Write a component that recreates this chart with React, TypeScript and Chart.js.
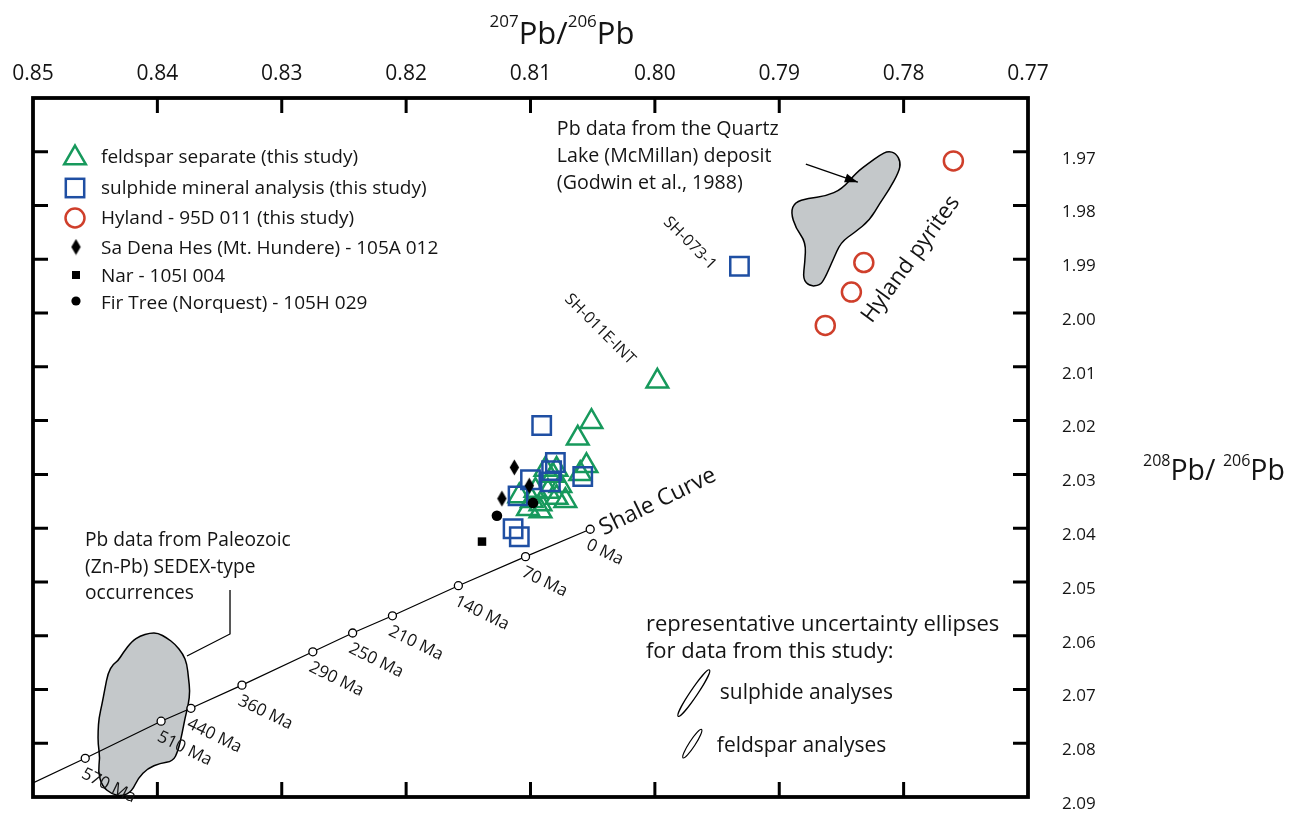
import React, { useEffect, useRef } from 'react';
import { Chart, registerables } from 'chart.js';

Chart.register(...registerables);

const FONT = "'Open Sans', 'DejaVu Sans', sans-serif";
const GREEN = '#17995c';
const BLUE = '#1f4fa3';
const RED = '#cf3f2b';
const INK = '#141414';

// ---- axes ----
const X_TICKS = [0.85, 0.84, 0.83, 0.82, 0.81, 0.8, 0.79, 0.78, 0.77];
const X_TICK_LABELS = ['0.85', '0.84', '0.83', '0.82', '0.81', '0.80', '0.79', '0.78', '0.77'];
const Y_TICKS = [1.96, 1.97, 1.98, 1.99, 2.0, 2.01, 2.02, 2.03, 2.04, 2.05, 2.06, 2.07, 2.08, 2.09];
const Y_TICK_LABELS = ['', '1.97', '1.98', '1.99', '2.00', '2.01', '2.02', '2.03', '2.04', '2.05', '2.06', '2.07', '2.08', '2.09'];

// ---- data (207Pb/206Pb = x, 208Pb/206Pb = y) ----
const feldsparX = [0.7998, 0.8051, 0.8062, 0.8055, 0.806, 0.8088, 0.8082, 0.8076, 0.8086, 0.8072, 0.8092, 0.8099, 0.8102, 0.8092, 0.8109, 0.8096, 0.8079, 0.8079];
const feldsparY = [2.0127, 2.0202, 2.0233, 2.0284, 2.0299, 2.0291, 2.0302, 2.0321, 2.0332, 2.0349, 2.0355, 2.0349, 2.0364, 2.0368, 2.034, 2.033, 2.0343, 2.0291];

const sulphideX = [0.7932, 0.8091, 0.808, 0.8083, 0.8084, 0.81, 0.811, 0.8058, 0.8114, 0.8109];
const sulphideY = [1.9913, 2.0209, 2.0278, 2.0293, 2.0314, 2.031, 2.034, 2.0304, 2.0401, 2.0416];

const hylandX = [0.776, 0.7832, 0.7842, 0.7863];
const hylandY = [1.9717, 1.9906, 1.9961, 2.0023];

const saDenaX = [0.8113, 0.8101, 0.8123];
const saDenaY = [2.0287, 2.0321, 2.0345];

const narX = [0.8139];
const narY = [2.0425];

const firTreeX = [0.8098, 0.8127];
const firTreeY = [2.0353, 2.0377];

// shale curve (last point = where the line leaves the plot, no marker)
const shaleAges = [0, 70, 140, 210, 250, 290, 360, 440, 510, 570, null];
const shaleX = [0.8052, 0.8104, 0.8158, 0.8211, 0.8243, 0.8275, 0.8332, 0.8373, 0.8397, 0.8458, 0.85];
const shaleY = [2.0402, 2.0453, 2.0507, 2.0563, 2.0595, 2.063, 2.0692, 2.0735, 2.0759, 2.0828, 2.0874];

// field outlines
const quartzX = [0.78127, 0.78063, 0.78023, 0.78039, 0.78119, 0.78191, 0.78272, 0.78392, 0.78505, 0.78569, 0.78633, 0.78674, 0.78754, 0.7881, 0.78794, 0.78786, 0.78867, 0.78907, 0.78875, 0.7877, 0.78625, 0.78497, 0.78376, 0.7828, 0.78191];
const quartzY = [1.96988, 1.97025, 1.97192, 1.97379, 1.97714, 1.97956, 1.98273, 1.98497, 1.98683, 1.99018, 1.99354, 1.99484, 1.99503, 1.99372, 1.99056, 1.98683, 1.98422, 1.98124, 1.97938, 1.97863, 1.97826, 1.97696, 1.97379, 1.97211, 1.97062];

const sedexX = [0.8406, 0.83995, 0.83923, 0.83859, 0.83794, 0.83762, 0.8375, 0.83738, 0.8375, 0.83778, 0.83802, 0.83834, 0.83875, 0.83979, 0.84076, 0.84156, 0.84204, 0.84285, 0.84365, 0.84445, 0.84477, 0.84461, 0.84477, 0.84477, 0.8447, 0.84445, 0.84421, 0.84397, 0.84357, 0.84317, 0.84277, 0.84204, 0.8414];
const sedexY = [2.0595, 2.0595, 2.06043, 2.06155, 2.06341, 2.06527, 2.06788, 2.07031, 2.07273, 2.07533, 2.07832, 2.08148, 2.08335, 2.08372, 2.08465, 2.08651, 2.08894, 2.08987, 2.0895, 2.088, 2.08521, 2.08279, 2.08018, 2.07776, 2.07533, 2.07273, 2.06975, 2.06695, 2.06527, 2.06471, 2.06322, 2.06099, 2.06006];

const legendLabels = [
  'feldspar separate (this study)',
  'sulphide mineral analysis (this study)',
  'Hyland - 95D 011 (this study)',
  'Sa Dena Hes (Mt. Hundere) - 105A 012',
  'Nar - 105I 004',
  'Fir Tree (Norquest) - 105H 029',
];

const pts = (xs: number[], ys: number[]) => xs.map((x, i) => ({ x, y: ys[i] }));

function makeDiamond(): HTMLCanvasElement {
  const c = document.createElement('canvas');
  c.width = 11;
  c.height = 17;
  const g = c.getContext('2d')!;
  g.fillStyle = '#000';
  g.beginPath();
  g.moveTo(5.5, 0.5);
  g.lineTo(10.2, 8.5);
  g.lineTo(5.5, 16.5);
  g.lineTo(0.8, 8.5);
  g.closePath();
  g.fill();
  return c;
}

function drawRich(ctx: CanvasRenderingContext2D, parts: { t: string; sup?: boolean }[], x: number, y: number, align: 'left' | 'center', big: number, sup: number, rise: number) {
  let total = 0;
  const widths: number[] = [];
  parts.forEach((p) => {
    ctx.font = `${p.sup ? sup : big}px ${FONT}`;
    const w = ctx.measureText(p.t).width;
    widths.push(w);
    total += w;
  });
  let cx = align === 'center' ? x - total / 2 : x;
  ctx.textAlign = 'left';
  ctx.textBaseline = 'alphabetic';
  parts.forEach((p, i) => {
    ctx.font = `${p.sup ? sup : big}px ${FONT}`;
    ctx.fillText(p.t, cx, p.sup ? y - rise : y);
    cx += widths[i];
  });
}

function triPath(ctx: CanvasRenderingContext2D, x: number, y: number, r: number) {
  ctx.beginPath();
  for (let k = 0; k < 3; k++) {
    const a = (k * 2 * Math.PI) / 3;
    const px = x + Math.sin(a) * r;
    const py = y - Math.cos(a) * r;
    if (k === 0) ctx.moveTo(px, py);
    else ctx.lineTo(px, py);
  }
  ctx.closePath();
}

export default function App() {
  const ref = useRef<HTMLCanvasElement | null>(null);

  useEffect(() => {
    document.body.style.margin = '0';
    const canvas = ref.current!;
    const diamond = makeDiamond();

    const blob = (ctx: CanvasRenderingContext2D, sx: any, sy: any, xs: number[], ys: number[]) => {
      const p = xs.map((v, i) => [sx.getPixelForValue(v), sy.getPixelForValue(ys[i])]);
      const n = p.length;
      const mid = (a: number[], b: number[]) => [(a[0] + b[0]) / 2, (a[1] + b[1]) / 2];
      ctx.save();
      ctx.beginPath();
      const m0 = mid(p[n - 1], p[0]);
      ctx.moveTo(m0[0], m0[1]);
      for (let i = 0; i < n; i++) {
        const nx = p[(i + 1) % n];
        const m = mid(p[i], nx);
        ctx.quadraticCurveTo(p[i][0], p[i][1], m[0], m[1]);
      }
      ctx.closePath();
      ctx.fillStyle = '#c4c8ca';
      ctx.fill();
      ctx.lineWidth = 1.5;
      ctx.strokeStyle = '#000';
      ctx.stroke();
      ctx.restore();
    };

    const decor = {
      id: 'decor',
      beforeDatasetsDraw(chart: any) {
        const { ctx, scales } = chart;
        blob(ctx, scales.x, scales.y, quartzX, quartzY);
        blob(ctx, scales.x, scales.y, sedexX, sedexY);
      },
      afterDatasetsDraw(chart: any) {
        const { ctx, chartArea: ca, scales } = chart;
        const sx = scales.x;
        const sy = scales.y;
        const X = (v: number) => sx.getPixelForValue(v);
        const Y = (v: number) => sy.getPixelForValue(v);
        ctx.save();

        // frame
        ctx.strokeStyle = '#000';
        ctx.lineWidth = 3.8;
        ctx.strokeRect(ca.left, ca.top, ca.right - ca.left, ca.bottom - ca.top);
        ctx.lineWidth = 3;
        ctx.beginPath();
        X_TICKS.slice(1, -1).forEach((v) => {
          const px = X(v);
          ctx.moveTo(px, ca.top);
          ctx.lineTo(px, ca.top + 15);
          ctx.moveTo(px, ca.bottom);
          ctx.lineTo(px, ca.bottom - 15);
        });
        Y_TICKS.slice(1, -1).forEach((v) => {
          const py = Y(v);
          ctx.moveTo(ca.left, py);
          ctx.lineTo(ca.left + 15, py);
          ctx.moveTo(ca.right, py);
          ctx.lineTo(ca.right - 15, py);
        });
        ctx.stroke();

        ctx.fillStyle = INK;
        // axis titles
        drawRich(ctx, [{ t: '207', sup: true }, { t: 'Pb/' }, { t: '206', sup: true }, { t: 'Pb' }], 562, 44, 'center', 31, 17, 17);
        drawRich(ctx, [{ t: '208', sup: true }, { t: 'Pb/ ' }, { t: '206', sup: true }, { t: 'Pb' }], 1143, 480, 'left', 28.5, 16, 14);

        // shale age labels
        const meta = chart.getDatasetMeta(chart.data.datasets.length - 1);
        ctx.font = `17px ${FONT}`;
        ctx.textAlign = 'left';
        ctx.textBaseline = 'top';
        meta.data.forEach((el: any, i: number) => {
          const age = shaleAges[i];
          if (age === null) return;
          ctx.save();
          ctx.translate(el.x + 1, el.y + 7);
          ctx.rotate((26 * Math.PI) / 180);
          ctx.fillText(`${age} Ma`, 0, 0);
          ctx.restore();
        });

        // rotated labels
        const rotLabel = (t: string, vx: number, vy: number, deg: number, size: number) => {
          ctx.save();
          ctx.translate(X(vx), Y(vy));
          ctx.rotate((deg * Math.PI) / 180);
          ctx.font = `${size}px ${FONT}`;
          ctx.textAlign = 'center';
          ctx.textBaseline = 'middle';
          ctx.fillText(t, 0, 0);
          ctx.restore();
        };
        rotLabel('SH-073-1', 0.79719, 1.98702, 45, 16);
        rotLabel('SH-011E-INT', 0.80442, 2.003, 45, 16);
        rotLabel('Hyland pyrites', 0.77942, 1.99, -54, 22.5);
        rotLabel('Shale Curve', 0.79976, 2.03509, -26, 23);

        // text blocks
        const block = (lines: string[], vx: number, vy: number, size: number, lh: number) => {
          ctx.font = `${size}px ${FONT}`;
          ctx.textAlign = 'left';
          ctx.textBaseline = 'middle';
          lines.forEach((l, i) => ctx.fillText(l, X(vx), Y(vy) + i * lh));
        };
        block(['Pb data from the Quartz', 'Lake (McMillan) deposit', '(Godwin et al., 1988)'], 0.80788, 1.96578, 19.6, 27);
        block(['Pb data from Paleozoic', '(Zn-Pb) SEDEX-type', 'occurrences'], 0.84582, 2.04236, 19.2, 26.5);
        block(['representative uncertainty ellipses', 'for data from this study:'], 0.80072, 2.058, 22, 27);
        block(['sulphide analyses'], 0.79478, 2.07068, 21, 0);
        block(['feldspar analyses'], 0.79502, 2.0805, 21, 0);

        // leader lines and arrow
        ctx.strokeStyle = '#000';
        ctx.lineWidth = 1.3;
        ctx.beginPath();
        ctx.moveTo(X(0.83762), Y(2.06378));
        ctx.lineTo(X(0.83416), Y(2.05968));
        ctx.lineTo(X(0.83416), Y(2.05149));
        ctx.stroke();
        const ax1 = X(0.78786), ay1 = Y(1.9723), ax2 = X(0.78368), ay2 = Y(1.97565);
        ctx.beginPath();
        ctx.moveTo(ax1, ay1);
        ctx.lineTo(ax2, ay2);
        ctx.stroke();
        const ang = Math.atan2(ay2 - ay1, ax2 - ax1);
        ctx.fillStyle = '#000';
        ctx.beginPath();
        ctx.moveTo(ax2, ay2);
        ctx.lineTo(ax2 - 13 * Math.cos(ang) + 4.5 * Math.sin(ang), ay2 - 13 * Math.sin(ang) - 4.5 * Math.cos(ang));
        ctx.lineTo(ax2 - 13 * Math.cos(ang) - 4.5 * Math.sin(ang), ay2 - 13 * Math.sin(ang) + 4.5 * Math.cos(ang));
        ctx.closePath();
        ctx.fill();

        // uncertainty ellipses
        ctx.lineWidth = 1.2;
        ctx.beginPath();
        ctx.ellipse(X(0.79687), Y(2.07068), 28, 3.6, (-56 * Math.PI) / 180, 0, Math.PI * 2);
        ctx.stroke();
        ctx.beginPath();
        ctx.ellipse(X(0.79699), Y(2.08008), 17, 3, (-57 * Math.PI) / 180, 0, Math.PI * 2);
        ctx.stroke();

        // legend
        const lx = ca.left + 42;
        const tx = ca.left + 68;
        const mys = [60, 90, 120, 149, 177, 203];
        const tys = [60, 91, 121, 151, 179, 206];
        ctx.lineWidth = 2.5;
        ctx.strokeStyle = GREEN;
        triPath(ctx, lx, ca.top + mys[0], 12.5);
        ctx.stroke();
        ctx.strokeStyle = BLUE;
        ctx.strokeRect(lx - 9.2, ca.top + mys[1] - 9.2, 18.4, 18.4);
        ctx.strokeStyle = RED;
        ctx.beginPath();
        ctx.arc(lx, ca.top + mys[2], 9.5, 0, Math.PI * 2);
        ctx.stroke();
        ctx.drawImage(diamond, lx + 1 - 5.5, ca.top + mys[3] - 8.5);
        ctx.fillStyle = '#000';
        ctx.fillRect(lx + 1 - 4, ca.top + mys[4] - 4, 8, 8);
        ctx.beginPath();
        ctx.arc(lx + 1, ca.top + mys[5], 4.6, 0, Math.PI * 2);
        ctx.fill();
        ctx.fillStyle = INK;
        ctx.font = `19px ${FONT}`;
        ctx.textAlign = 'left';
        ctx.textBaseline = 'middle';
        legendLabels.forEach((l, i) => ctx.fillText(l, tx, ca.top + tys[i]));

        ctx.restore();
      },
    };

    const chart = new Chart(canvas, {
      type: 'scatter',
      data: {
        datasets: [
          { label: legendLabels[3], data: pts(saDenaX, saDenaY), pointStyle: diamond as any, pointRadius: 6 },
          { label: legendLabels[4], data: pts(narX, narY), pointStyle: 'rect', pointRadius: 6, backgroundColor: '#000', borderWidth: 0 },
          { label: legendLabels[5], data: pts(firTreeX, firTreeY), pointStyle: 'circle', pointRadius: 5.3, backgroundColor: '#000', borderWidth: 0 },
          { label: legendLabels[1], data: pts(sulphideX, sulphideY), pointStyle: 'rect', pointRadius: 13, backgroundColor: 'rgba(0,0,0,0)', borderColor: BLUE, borderWidth: 2.5 },
          { label: legendLabels[0], data: pts(feldsparX, feldsparY), pointStyle: 'triangle', pointRadius: 12.5, backgroundColor: 'rgba(0,0,0,0)', borderColor: GREEN, borderWidth: 2.5 },
          { label: legendLabels[2], data: pts(hylandX, hylandY), pointStyle: 'circle', pointRadius: 9.5, backgroundColor: 'rgba(0,0,0,0)', borderColor: RED, borderWidth: 2.5 },
          {
            label: 'Shale Curve',
            data: pts(shaleX, shaleY),
            showLine: true,
            borderColor: '#000',
            borderWidth: 1.2,
            pointStyle: 'circle',
            pointRadius: shaleAges.map((a) => (a === null ? 0 : 4)),
            pointBackgroundColor: '#fff',
            pointBorderColor: '#000',
            pointBorderWidth: 1.3,
          } as any,
        ],
      },
      options: {
        responsive: false,
        animation: false,
        devicePixelRatio: 1,
        events: [],
        layout: { padding: { left: 33, top: 0, right: 0, bottom: 17 } },
        plugins: { legend: { display: false }, tooltip: { enabled: false } },
        scales: {
          x: {
            type: 'linear',
            position: 'top',
            min: 0.77,
            max: 0.85,
            reverse: true,
            afterBuildTicks: (s: any) => {
              s.ticks = X_TICKS.map((v) => ({ value: v }));
            },
            afterFit: (s: any) => {
              s.height = 98;
              s.paddingLeft = 0;
              s.paddingRight = 0;
            },
            grid: { display: false, drawTicks: false },
            border: { display: false },
            ticks: {
              callback: (_v: any, i: number) => X_TICK_LABELS[i],
              font: { family: FONT, size: 21 },
              color: INK,
              padding: 11,
              maxRotation: 0,
              autoSkip: false,
            },
          },
          y: {
            type: 'linear',
            position: 'right',
            min: 1.96,
            max: 2.09,
            reverse: true,
            afterBuildTicks: (s: any) => {
              s.ticks = Y_TICKS.map((v) => ({ value: v }));
            },
            afterFit: (s: any) => {
              s.width = 273;
              s.paddingTop = 0;
              s.paddingBottom = 0;
            },
            grid: { display: false, drawTicks: false },
            border: { display: false },
            ticks: {
              callback: (_v: any, i: number) => Y_TICK_LABELS[i],
              font: { family: FONT, size: 17 },
              color: INK,
              padding: 34,
              labelOffset: 7,
              autoSkip: false,
            },
          },
        },
      },
      plugins: [decor],
    } as any);

    return () => chart.destroy();
  }, []);

  return <canvas ref={ref} width={1301} height={814} style={{ display: 'block' }} />;
}
